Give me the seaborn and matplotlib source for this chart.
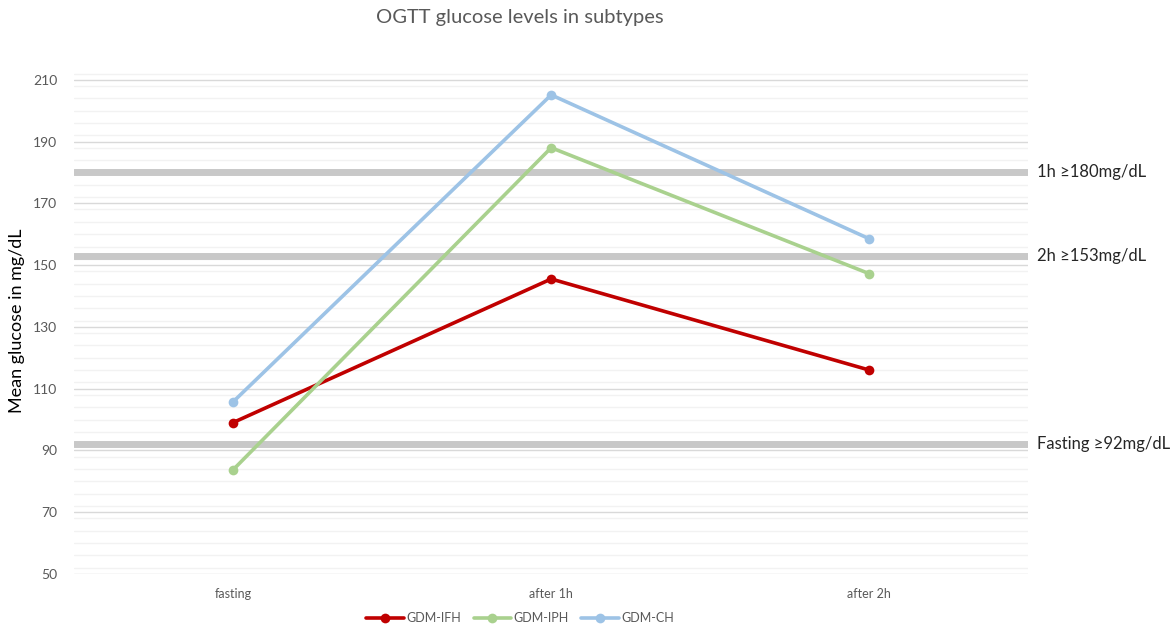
import pandas as pd
import matplotlib.pyplot as plt
import seaborn as sns
from matplotlib.ticker import MultipleLocator

# values
stages = ['fasting', 'after 1h', 'after 2h']
ifh = [99, 145.5, 116]
iph = [83.7, 188, 147.2]
ch = [105.7, 205.1, 158.5]
groups = ['GDM-IFH', 'GDM-IPH', 'GDM-CH']
colors = ['#C00000', '#A9D18E', '#9DC3E6']

thresholds = [180, 153, 92]
threshold_labels = ['1h \u2265180mg/dL', '2h \u2265153mg/dL', 'Fasting \u226592mg/dL']

# long table for seaborn
rows = []
for g, vals in zip(groups, [ifh, iph, ch]):
    for s, v in zip(stages, vals):
        rows.append({'stage': s, 'glucose': v, 'group': g})
df = pd.DataFrame(rows)

sns.set_style('white')
plt.rcParams['font.family'] = ['Lato', 'DejaVu Sans']

fig = plt.figure(figsize=(11.74, 6.3), dpi=100)
ax = fig.add_axes([0.063, 0.089, 0.813, 0.804])

sns.lineplot(data=df, x='stage', y='glucose', hue='group', hue_order=groups,
             palette=colors, marker='o', markersize=7, markeredgewidth=0,
             linewidth=2.6, sort=False, ax=ax, zorder=5)

ax.set_xlim(-0.5, 2.5)
ax.set_ylim(50, 214)
ax.yaxis.set_major_locator(MultipleLocator(20))
ax.yaxis.set_minor_locator(MultipleLocator(4))
ax.set_yticks(range(50, 211, 20))
ax.grid(axis='y', which='major', color='#D9D9D9', linewidth=1)
ax.grid(axis='y', which='minor', color='#F2F2F2', linewidth=1)
ax.set_axisbelow(True)
for sp in ax.spines.values():
    sp.set_visible(False)
ax.tick_params(axis='both', which='both', length=0)
ax.tick_params(axis='y', labelsize=10, labelcolor='#595959', pad=12)
ax.tick_params(axis='x', labelsize=9, labelcolor='#595959', pad=10)
ax.set_xlabel('')
ax.set_ylabel('Mean glucose in mg/dL', fontsize=13, color='black', labelpad=6)

for t, lab in zip(thresholds, threshold_labels):
    ax.axhline(t, color='#C8C8C8', linewidth=5, zorder=2)
    ax.text(1.009, t, lab, transform=ax.get_yaxis_transform(),
            fontsize=12, color='#262626', va='center', ha='left')

fig.text(520 / 1174, 1 - 18 / 630, 'OGTT glucose levels in subtypes',
         fontsize=14.5, color='#595959', ha='center', va='center')

ax.legend(loc='center', bbox_to_anchor=(0.4675, -0.087), ncol=3, frameon=False,
          fontsize=9, handlelength=3, columnspacing=1.0, handletextpad=0.2,
          labelcolor='#595959')

plt.savefig('out.png', dpi=100)
